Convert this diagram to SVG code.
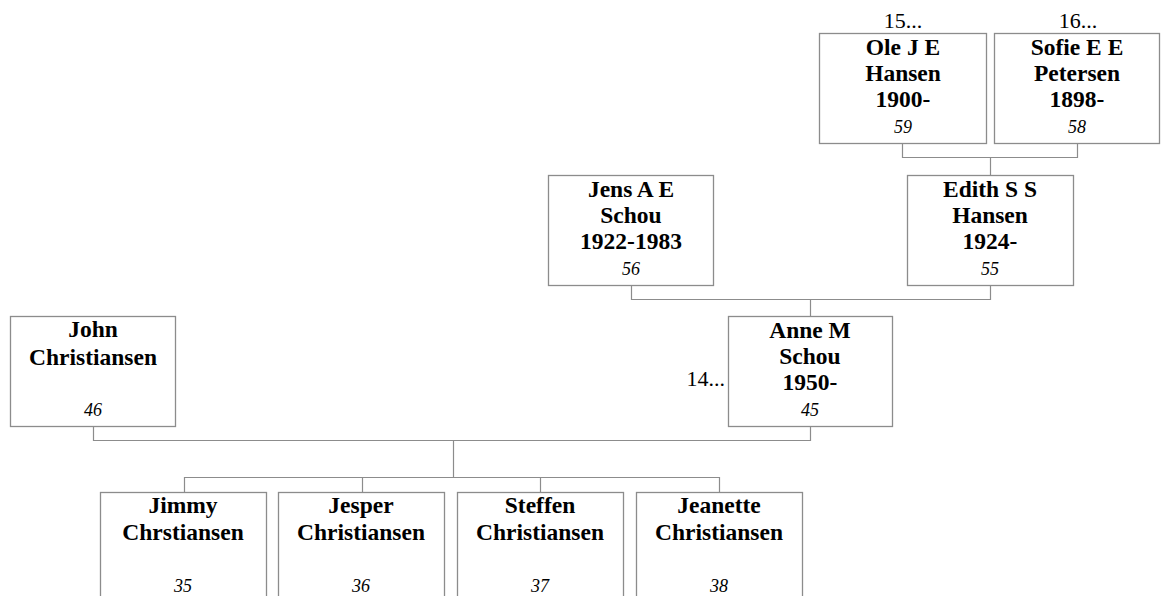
<svg xmlns="http://www.w3.org/2000/svg" width="1166" height="596" viewBox="0 0 1166 596">
<style>
.box{fill:#fff;stroke:#8c8c8c;stroke-width:1.3}
.nm{font-family:"Liberation Serif","Times New Roman",serif;font-weight:bold;font-size:23.5px;fill:#000;text-anchor:middle}
.no{font-family:"Liberation Serif","Times New Roman",serif;font-style:italic;font-size:18px;fill:#000;text-anchor:middle}
.ref{font-family:"Liberation Serif","Times New Roman",serif;font-size:22px;fill:#000}
.con{fill:none;stroke:#8c8c8c;stroke-width:1.2}
</style>
<rect width="1166" height="596" fill="#fff"/>
<g id="connectors" class="con">
<path d="M902.5 143V157.5H1077.5V143"/>
<path d="M990.5 157.5V175"/>
<path d="M631.5 285V299.5H990.5V285"/>
<path d="M810.5 299.5V316"/>
<path d="M93.5 426V440.5H810.5V426"/>
<path d="M453.5 440.5V477.5"/>
<path d="M184.5 492V477.5H719.5V492"/>
<path d="M362.5 477.5V492"/>
<path d="M540.5 477.5V492"/>
</g>
<g id="n59">
<text class="ref" x="903" y="28" text-anchor="middle">15...</text>
<rect class="box" x="819.5" y="33.5" width="167" height="110"/>
<text class="nm" x="903" y="55">Ole J E</text>
<text class="nm" x="903" y="81">Hansen</text>
<text class="nm" x="903" y="107">1900-</text>
<text class="no" x="903" y="133">59</text>
</g>
<g id="n58">
<text class="ref" x="1078" y="28" text-anchor="middle">16...</text>
<rect class="box" x="994.5" y="33.5" width="165" height="110"/>
<text class="nm" x="1077" y="55">Sofie E E</text>
<text class="nm" x="1077" y="81">Petersen</text>
<text class="nm" x="1077" y="107">1898-</text>
<text class="no" x="1077" y="133">58</text>
</g>
<g id="n56">
<rect class="box" x="548.5" y="175.5" width="165" height="110"/>
<text class="nm" x="631" y="197">Jens A E</text>
<text class="nm" x="631" y="223">Schou</text>
<text class="nm" x="631" y="249">1922-1983</text>
<text class="no" x="631" y="275">56</text>
</g>
<g id="n55">
<rect class="box" x="907.5" y="175.5" width="166" height="110"/>
<text class="nm" x="990" y="197">Edith S S</text>
<text class="nm" x="990" y="223">Hansen</text>
<text class="nm" x="990" y="249">1924-</text>
<text class="no" x="990" y="275">55</text>
</g>
<g id="n46">
<rect class="box" x="10.5" y="316.5" width="165" height="110"/>
<text class="nm" x="93" y="337">John</text>
<text class="nm" x="93" y="365">Christiansen</text>
<text class="no" x="93" y="416">46</text>
</g>
<g id="n45">
<text class="ref" x="725" y="386" text-anchor="end">14...</text>
<rect class="box" x="728.5" y="316.5" width="164" height="110"/>
<text class="nm" x="810" y="338">Anne M</text>
<text class="nm" x="810" y="364">Schou</text>
<text class="nm" x="810" y="390">1950-</text>
<text class="no" x="810" y="416">45</text>
</g>
<g id="n35">
<rect class="box" x="100.5" y="492.5" width="166" height="110"/>
<text class="nm" x="183" y="513">Jimmy</text>
<text class="nm" x="183" y="540">Chrstiansen</text>
<text class="no" x="183" y="592">35</text>
</g>
<g id="n36">
<rect class="box" x="278.5" y="492.5" width="166" height="110"/>
<text class="nm" x="361" y="513">Jesper</text>
<text class="nm" x="361" y="540">Christiansen</text>
<text class="no" x="361" y="592">36</text>
</g>
<g id="n37">
<rect class="box" x="457.5" y="492.5" width="166" height="110"/>
<text class="nm" x="540" y="513">Steffen</text>
<text class="nm" x="540" y="540">Christiansen</text>
<text class="no" x="540" y="592">37</text>
</g>
<g id="n38">
<rect class="box" x="636.5" y="492.5" width="166" height="110"/>
<text class="nm" x="719" y="513">Jeanette</text>
<text class="nm" x="719" y="540">Christiansen</text>
<text class="no" x="719" y="592">38</text>
</g>
</svg>
